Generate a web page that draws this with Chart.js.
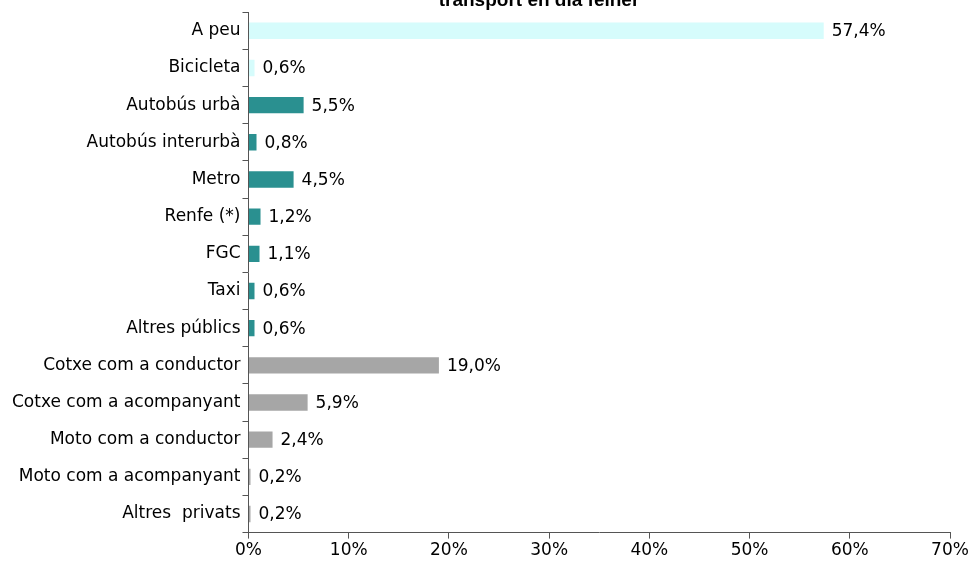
<!DOCTYPE html>
<html>
<head>
<meta charset="utf-8">
<script src="https://cdn.jsdelivr.net/npm/chart.js@4"></script>
<style>
  html, body { margin: 0; padding: 0; background: #fff; }
  #wrap { width: 980px; height: 563px; }
</style>
</head>
<body>
<div id="wrap"><canvas id="myChart" width="980" height="563"></canvas></div>
<script>
const titleText = 'transport en dia feiner';
const categories = ['A peu', 'Bicicleta', 'Autobús urbà', 'Autobús interurbà', 'Metro', 'Renfe (*)', 'FGC',
    'Taxi', 'Altres públics', 'Cotxe com a conductor', 'Cotxe com a acompanyant', 'Moto com a conductor',
    'Moto com a acompanyant', 'Altres  privats'];
const values = [57.4, 0.6, 5.5, 0.8, 4.5, 1.2, 1.1, 0.6, 0.6, 19.0, 5.9, 2.4, 0.2, 0.2];
const groups = ['soft', 'soft', 'public', 'public', 'public', 'public', 'public', 'public', 'public',
    'private', 'private', 'private', 'private', 'private'];
const xTicks = [0, 10, 20, 30, 40, 50, 60, 70];

const groupColors = {soft: '#d6fcfc', public: '#2a9090', private: '#a6a6a6'};
const font = '"DejaVu Sans", Verdana, sans-serif';

// value labels after each bar
const valueLabels = {
    id: 'valueLabels',
    afterDatasetsDraw(chart) {
        const ctx = chart.ctx;
        const meta = chart.getDatasetMeta(0);
        ctx.save();
        ctx.font = '17px ' + font;
        ctx.fillStyle = '#000';
        ctx.textBaseline = 'middle';
        ctx.textAlign = 'left';
        meta.data.forEach((bar, i) => {
            ctx.fillText(values[i].toFixed(1).replace('.', ',') + '%', bar.x + 8, bar.y + 1);
        });
        ctx.restore();
    }
};

// title sits partly above the picture, as in the original
const cutTitle = {
    id: 'cutTitle',
    afterDraw(chart) {
        const ctx = chart.ctx;
        ctx.save();
        ctx.font = 'bold 19px "Liberation Sans", Arial, sans-serif';
        ctx.fillStyle = '#000';
        ctx.textAlign = 'center';
        ctx.textBaseline = 'alphabetic';
        ctx.fillText(titleText, chart.width * 0.55, 6);
        ctx.restore();
    }
};

new Chart(document.getElementById('myChart').getContext('2d'), {
    type: 'bar',
    data: {
        labels: categories,
        datasets: [{
            data: values,
            backgroundColor: groups.map(g => groupColors[g]),
            borderWidth: 0,
            barPercentage: 0.44,
            categoryPercentage: 1
        }]
    },
    options: {
        indexAxis: 'y',
        responsive: false,
        animation: false,
        layout: {padding: {top: 10, right: 30, left: 10, bottom: 0}},
        plugins: {legend: {display: false}, tooltip: {enabled: false}, title: {display: false}},
        scales: {
            x: {
                min: 0,
                max: 70,
                afterBuildTicks: axis => { axis.ticks = xTicks.map(v => ({value: v})); },
                border: {color: '#555', width: 1},
                grid: {drawOnChartArea: false, color: '#555', tickLength: 6},
                ticks: {
                    color: '#000',
                    font: {family: font, size: 17},
                    padding: 2,
                    maxRotation: 0,
                    callback: v => v + '%'
                }
            },
            y: {
                border: {color: '#555', width: 1},
                grid: {drawOnChartArea: false, offset: true, color: '#555', tickLength: 6},
                ticks: {
                    color: '#000',
                    font: {family: font, size: 17},
                    padding: 2,
                    crossAlign: 'near'
                }
            }
        }
    },
    plugins: [valueLabels, cutTitle]
});
</script>
</body>
</html>
